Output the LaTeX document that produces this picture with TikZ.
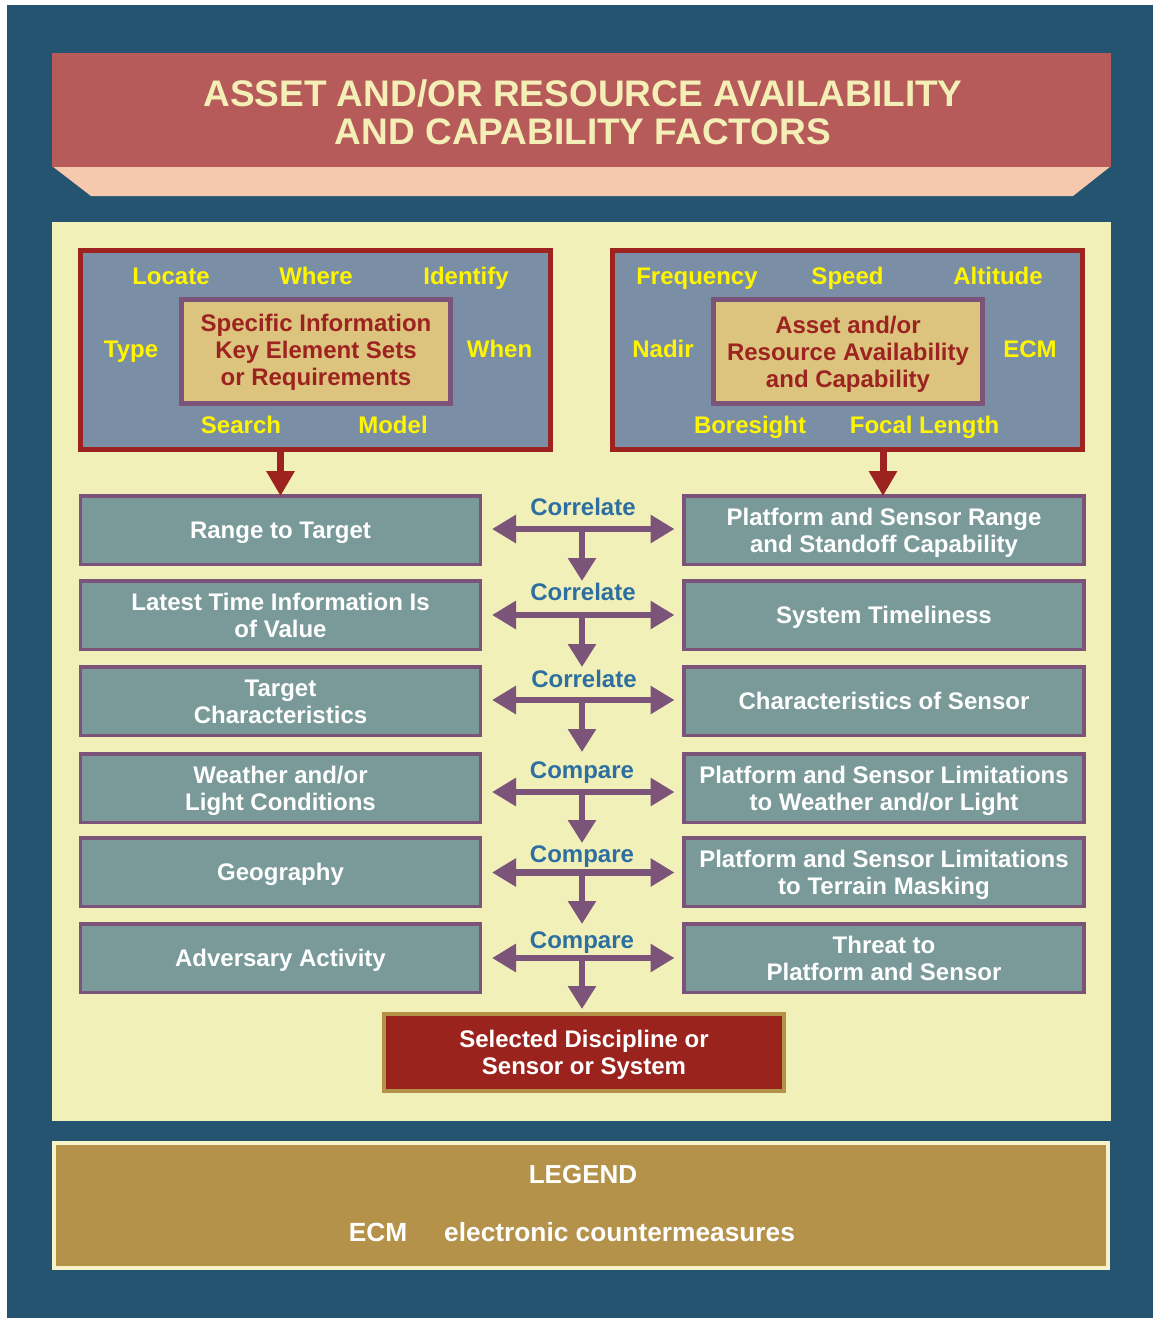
\documentclass[tikz,border=0pt]{standalone}
\usepackage{fontspec}
\setmainfont{Liberation Sans}
\usetikzlibrary{arrows.meta}
\definecolor{bgblue}{HTML}{245470}
\definecolor{titlered}{HTML}{B75A5A}
\definecolor{bevel}{HTML}{F6C9AF}
\definecolor{panel}{HTML}{F2F0B9}
\definecolor{cream}{HTML}{F3EFB6}
\definecolor{topfill}{HTML}{7A8FA6}
\definecolor{topred}{HTML}{9C2320}
\definecolor{innerfill}{HTML}{DCC47E}
\definecolor{boxpurple}{HTML}{7C5479}
\definecolor{yel}{HTML}{FFF500}
\definecolor{boxteal}{HTML}{7A9A9A}
\definecolor{lblblue}{HTML}{2D6FA0}
\definecolor{gold}{HTML}{B4924A}
\definecolor{legcream}{HTML}{F8F2C8}
\definecolor{selred}{HTML}{9B231E}
\newcommand{\bodyfont}{\fontsize{24}{27}\selectfont\bfseries}
\newcommand{\topstrut}{\rule{0pt}{23pt}}
\begin{document}
\begin{tikzpicture}[x=1pt,y=-1pt,
  struts/.style={execute at end node={\rule[-6pt]{0pt}{6pt}}},
  box/.style={draw=boxpurple, line width=3.5pt, fill=boxteal, minimum width=400pt,
    minimum height=68.5pt, inner sep=0pt, text=white, align=center, font=\bodyfont, struts},
  topbox/.style={draw=topred, line width=5pt, fill=topfill, minimum width=470pt,
    minimum height=199pt, inner sep=0pt},
  inbox/.style={draw=boxpurple, line width=5pt, fill=innerfill, minimum width=269pt,
    minimum height=104pt, inner sep=0pt, text=topred, align=center, font=\bodyfont, struts},
  yl/.style={text=yel, font=\bodyfont, inner sep=0pt, text height=17pt, text depth=0pt},
  lbl/.style={text=lblblue, font=\bodyfont, inner sep=0pt, text height=17pt, text depth=0pt},
  dbl/.style={draw=boxpurple, line width=6.5pt,
    {Triangle[length=24pt,width=27pt]}-{Triangle[length=24pt,width=27pt]}},
  down/.style={draw=boxpurple, line width=6.5pt, -{Triangle[length=23pt,width=27pt]}},
  reddown/.style={draw=topred, line width=7pt, -{Triangle[length=25pt,width=27pt]}},
  legtext/.style={text=white, font=\fontsize{26.3}{28}\selectfont\bfseries, inner sep=0pt,
    text height=19pt, text depth=0pt}
]
\useasboundingbox (0,0) rectangle (1153,1318);
\fill[white] (0,0) rectangle (1153,1318);
\fill[bgblue] (7,5) rectangle (1153,1318);
% title banner
\fill[bevel] (52,166) -- (1111,166) -- (1073,196) -- (91,196) -- cycle;
\fill[titlered] (52,53) rectangle (1111,167);
\node[text=cream, font=\fontsize{37}{38}\selectfont\bfseries, align=center, inner sep=0pt,
  execute at end node={\rule[-6.5pt]{0pt}{6.5pt}}]
  (title) at (583,112) {\rule{0pt}{33pt}ASSET AND/OR RESOURCE AVAILABILITY\\AND CAPABILITY FACTORS};
% panel
\fill[panel] (52,222) rectangle (1111,1121);
% top boxes
\node[topbox] (TL) at (315.5,350) {};
\node[inbox] (IL) at (316,351.5) {};
\node[text=topred, align=center, font=\bodyfont, inner sep=0pt, struts] (ILt) at (316,349.5)
  {\topstrut Specific Information\\Key Element Sets\\or Requirements};
\node[topbox] (TR) at (847.5,350) {};
\node[inbox] (IR) at (848,351.5) {\topstrut Asset and/or\\Resource Availability\\and Capability};
\node[yl] (locate) at (171,276) {Locate};
\node[yl] (where) at (316,276) {Where};
\node[yl] (identify) at (466,276) {Identify};
\node[yl] (type) at (131,348.5) {Type};
\node[yl] (when) at (499.5,348.5) {When};
\node[yl] (search) at (241,424.5) {Search};
\node[yl] (model) at (393,424.5) {Model};
\node[yl] (freq) at (697,276) {Frequency};
\node[yl] (speed) at (847.5,276) {Speed};
\node[yl] (alt) at (998,276) {Altitude};
\node[yl] (nadir) at (663,348.5) {Nadir};
\node[yl] (ecm) at (1030,348.5) {ECM};
\node[yl] (bore) at (750,424.5) {Boresight};
\node[yl] (focal) at (924.5,424.5) {Focal Length};
% rows
\node[box] (L1) at (280.5,530) {\topstrut Range to Target};
\node[box] (R1) at (884,530) {\topstrut Platform and Sensor Range\\and Standoff Capability};
\node[box] (L2) at (280.5,615) {\topstrut Latest Time Information Is\\of Value};
\node[box] (R2) at (884,615) {\topstrut System Timeliness};
\node[box] (L3) at (280.5,701) {\topstrut Target\\Characteristics};
\node[box] (R3) at (884,701) {\topstrut Characteristics of Sensor};
\node[box] (L4) at (280.5,788) {\topstrut Weather and/or\\Light Conditions};
\node[box] (R4) at (884,788) {\topstrut Platform and Sensor Limitations\\to Weather and/or Light};
\node[box] (L5) at (280.5,872) {\topstrut Geography};
\node[box] (R5) at (884,872) {\topstrut Platform and Sensor Limitations\\to Terrain Masking};
\node[box] (L6) at (280.5,958) {\topstrut Adversary Activity};
\node[box] (R6) at (884,958) {\topstrut Threat to\\Platform and Sensor};
% result
\node[draw=gold, line width=4pt, fill=selred, minimum width=400pt, minimum height=77pt,
  inner sep=0pt, text=white, align=center, font=\bodyfont, struts] (sel) at (584,1052.5)
  {\topstrut Selected Discipline or\\Sensor or System};
% red arrows
\draw[reddown, shorten >=-2pt] (L1.north |- TL.south) -- (L1.north);
\draw[reddown, shorten >=-2pt] ([xshift=-1pt]R1.north |- TR.south) -- ([xshift=-1pt]R1.north);
% labels
\node[lbl] (c1) at (583,507) {Correlate};
\node[lbl] (c2) at (583,592) {Correlate};
\node[lbl] (c3) at (584,679) {Correlate};
\node[lbl] (m1) at (582,770) {Compare};
\node[lbl] (m2) at (582,854) {Compare};
\node[lbl] (m3) at (582,940) {Compare};
% junctions and tips
\coordinate (j1) at (582,529);
\coordinate (j2) at (582,615);
\coordinate (j3) at (582,700);
\coordinate (j4) at (582,792);
\coordinate (j5) at (582,872.5);
\coordinate (j6) at (582,958);
\coordinate (t1) at (582,581);
\coordinate (t2) at (582,667);
\coordinate (t3) at (582,752);
\coordinate (t4) at (582,843);
\coordinate (t5) at (582,924);
\foreach \k in {1,...,6}{
  \draw[dbl, shorten <=9.75pt, shorten >=7.75pt] (L\k.east |- j\k) -- (R\k.west |- j\k);
}
\foreach \k in {1,...,5}{
  \draw[down] (j\k) -- (t\k);
}
\draw[down, shorten >=3pt] (j6) -- (j6 |- sel.north);
% legend
\node[draw=legcream, line width=4pt, fill=gold, minimum width=1054pt, minimum height=125pt,
  inner sep=0pt] (leg) at (581,1205.5) {};
\node[legtext, font=\fontsize{26}{28}\selectfont\bfseries] (legt) at (583,1174) {LEGEND};
\node[legtext] (lecm) at (378,1232) {ECM};
\node[legtext, anchor=west] (ldef) at (444,1232) {electronic countermeasures};
\end{tikzpicture}
\end{document}
